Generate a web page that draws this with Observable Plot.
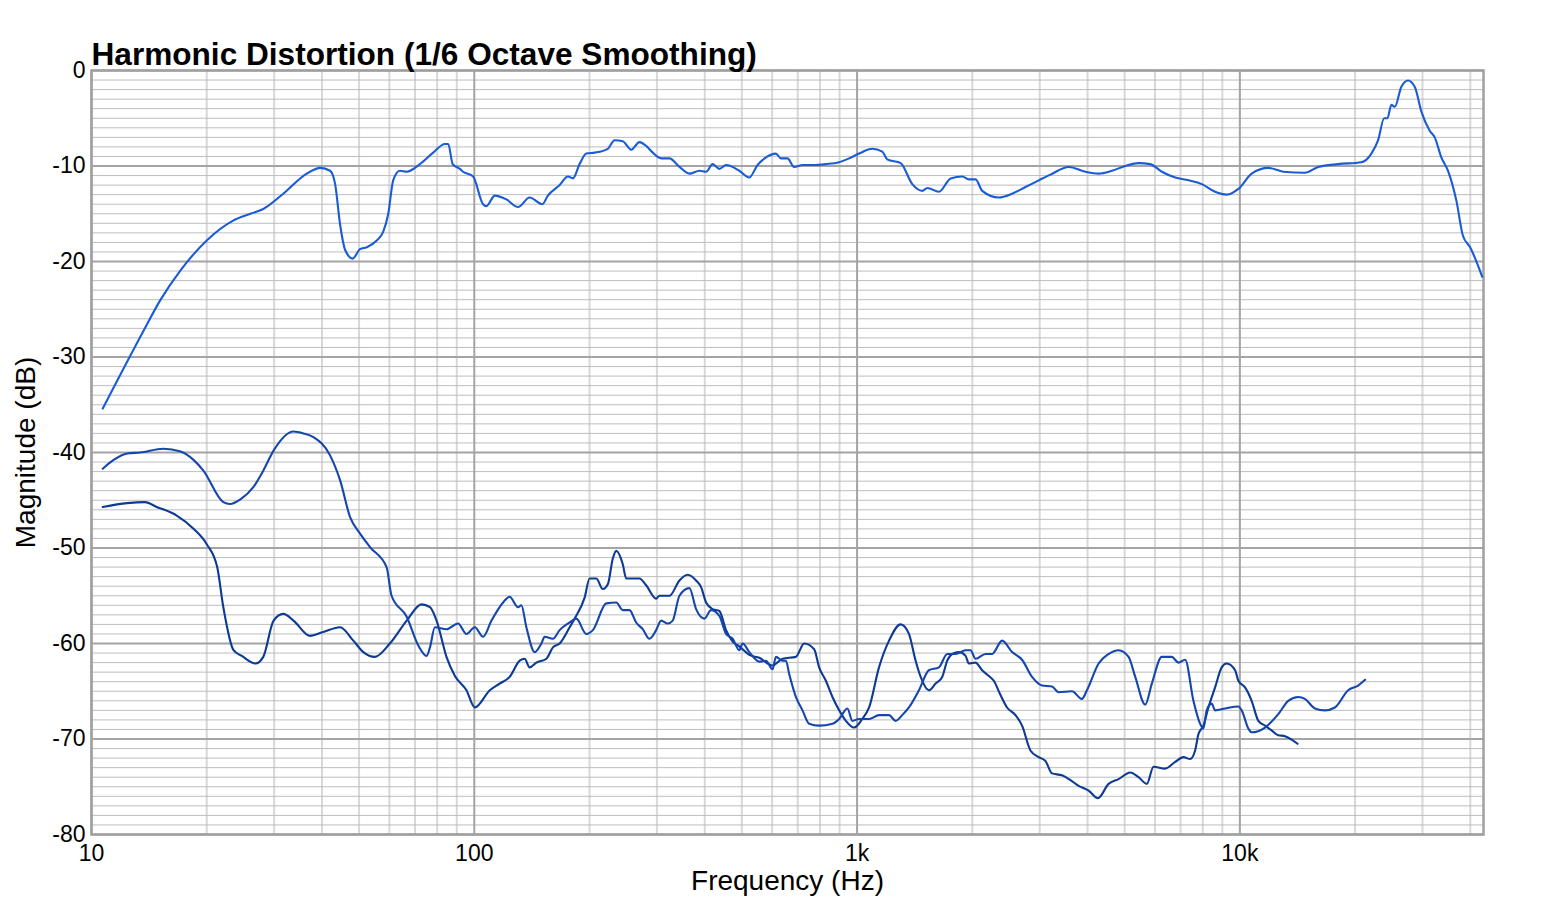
<!DOCTYPE html>
<html>
<head>
<meta charset="utf-8">
<script src="https://cdn.jsdelivr.net/npm/d3@7"></script>
<script src="https://cdn.jsdelivr.net/npm/@observablehq/plot@0.6"></script>
<style>
  html, body { margin: 0; padding: 0; background: #fff; }
  #chart svg { display: block; }
</style>
</head>
<body>
<div id="chart"></div>
<script>
const title = "Harmonic Distortion (1/6 Octave Smoothing)";
const xLabel = "Frequency (Hz)";
const yLabel = "Magnitude (dB)";
const xTicks = [10, 100, 1000, 10000];
const xTickLabels = ["10", "100", "1k", "10k"];
const yTicks = [0, -10, -20, -30, -40, -50, -60, -70, -80];
const xMinorTicks = [20, 30, 40, 50, 60, 70, 80, 90, 200, 300, 400, 500, 600, 700, 800, 900,
  2000, 3000, 4000, 5000, 6000, 7000, 8000, 9000, 20000, 30000, 40000];
const yMinorTicks = d3.range(-79, 0).filter(d => d % 10 !== 0);

// Fundamental
const fundFreq = [10.7, 13.7, 15.1, 17.1, 20.0, 23.5, 26.0, 28.1, 31.7, 36.5, 39.6, 42.0, 43.3, 44.6, 46.0, 48.1, 50.3, 52.4, 55.6, 57.8, 59.6, 61.4, 63.9, 66.6, 72.1, 78.1, 83.8, 85.5, 87.8, 91.7, 93.5, 99.3, 105.4, 107.6, 113.1, 121.3, 130.1, 139.5, 150.6, 155.7, 167.1, 175.6, 181.0, 188.4, 196.2, 206.2, 223.3, 232.5, 244.3, 257, 270.1, 281.2, 292.6, 307.7, 323.5, 343.6, 364.8, 387.3, 403.2, 419.5, 436.8, 454.7, 492.4, 522.8, 549.5, 578, 613.8, 632.4, 658.1, 685.1, 720.1, 764.5, 828.7, 897.7, 953, 1012, 1096, 1164, 1199, 1300, 1394, 1480, 1526, 1636, 1756, 1882, 1959, 2040, 2123, 2346, 2541, 2754, 2983, 3201, 3572, 3949, 4276, 4632, 5019, 5436, 5832, 6255, 6778, 7342, 7953, 8616, 9239, 9911, 10736, 11870, 12990, 14790, 16020, 18060, 20780, 22060, 22970, 23820, 24290, 24880, 25400, 26420, 27500, 28630, 29800, 31330, 32290, 33600, 34980, 36770, 38260, 39950, 42970];
const fundDb = [-35.4, -27.2, -24.1, -20.9, -17.8, -15.7, -15.0, -14.5, -12.9, -10.8, -10.2, -10.5, -11.9, -16.1, -18.8, -19.7, -18.7, -18.5, -17.8, -16.9, -15.0, -11.5, -10.5, -10.6, -9.8, -8.6, -7.7, -7.7, -9.8, -10.3, -10.6, -11.1, -14.0, -14.2, -13.1, -13.5, -14.3, -13.3, -14.0, -13.1, -12.0, -11.1, -11.3, -9.8, -8.7, -8.6, -8.2, -7.3, -7.4, -8.3, -7.5, -7.9, -8.6, -9.2, -9.2, -10.1, -10.8, -10.5, -10.6, -9.8, -10.3, -9.9, -10.5, -11.2, -9.9, -9.1, -8.7, -9.2, -9.2, -10.1, -9.9, -9.9, -9.8, -9.6, -9.2, -8.7, -8.2, -8.5, -9.3, -9.7, -11.9, -12.6, -12.3, -12.7, -11.3, -11.1, -11.4, -11.4, -12.6, -13.3, -12.9, -12.2, -11.5, -10.9, -10.1, -10.6, -10.8, -10.5, -10.0, -9.7, -9.8, -10.6, -11.2, -11.5, -11.9, -12.7, -13.0, -12.4, -10.8, -10.2, -10.6, -10.7, -10.1, -9.8, -9.6, -8.7, -7.3, -5.0, -5.0, -3.6, -3.8, -1.7, -1.05, -1.7, -4.3, -6.3, -7.0, -9.1, -10.5, -13.6, -17.3, -18.5, -21.6];

// 2nd harmonic
const h2Freq = [10.7, 11.4, 12.4, 13.4, 15.4, 17.1, 18.5, 19.6, 22.1, 23.0, 24.5, 26.5, 28.1, 29.9, 33.7, 35.8, 38.0, 42.0, 44.6, 47.4, 50.3, 53.4, 59.0, 60.8, 66.6, 71.4, 75.1, 76.6, 78.9, 84.6, 90.7, 95.4, 100.3, 105.4, 110.9, 118.9, 123.7, 130.1, 132.7, 136.8, 143.8, 149.7, 152.7, 160.5, 167.1, 177.5, 184.7, 196.2, 204.1, 221.2, 234.9, 244.3, 254.4, 264.8, 275.5, 286.8, 298.6, 307.7, 320.2, 329.9, 343.5, 364.7, 379.7, 399.1, 415.5, 436.7, 454.7, 473.1, 492.5, 502.3, 523.0, 555.3, 578.1, 601.5, 613.8, 638.6, 651.8, 664.8, 692.1, 720.1, 749.7, 796.0, 862.4, 897.8, 943.6, 972.2, 1012, 1075, 1141, 1212, 1261, 1312, 1366, 1451, 1540, 1636, 1720, 1809, 1921, 1979, 2039, 2166, 2253, 2393, 2541, 2698, 2865, 3042, 3230, 3363, 3642, 3867, 3985, 4276, 4540, 4822, 5120, 5330, 5660, 5889, 6253, 6639, 6911, 7195, 7563, 7873, 8031, 8191, 8441, 8615, 9149, 9910, 10109, 10523, 10734, 11634, 12600, 13381, 14211, 14791, 15707, 16680, 17713, 19185, 20371, 21246];
const h2Db = [-41.7, -40.8, -40.1, -40.0, -39.6, -39.9, -40.8, -41.9, -45.2, -45.4, -44.9, -43.6, -41.9, -39.8, -37.8, -38.0, -38.4, -40.3, -42.9, -46.8, -48.5, -49.9, -52.0, -55.0, -57.2, -60.2, -61.3, -60.4, -58.3, -58.5, -57.9, -59.0, -58.3, -59.3, -57.6, -55.7, -55.1, -56.2, -56.0, -58.3, -60.9, -60.0, -59.3, -59.5, -58.6, -57.8, -57.4, -59.0, -58.6, -55.8, -55.7, -56.5, -56.5, -57.8, -58.5, -59.5, -58.6, -57.6, -57.9, -57.6, -55.0, -54.2, -56.4, -57.4, -56.5, -57.1, -59.0, -59.5, -60.7, -60.0, -60.9, -61.9, -61.8, -62.7, -61.4, -61.8, -61.8, -63.2, -65.6, -67.0, -68.4, -68.6, -68.4, -67.9, -66.8, -68.1, -67.9, -67.9, -67.5, -67.5, -68.1, -67.5, -66.7, -64.9, -62.8, -62.5, -61.1, -61.1, -60.7, -60.7, -61.6, -61.1, -61.1, -59.7, -60.9, -61.7, -63.5, -64.4, -64.5, -65.1, -65.0, -65.8, -64.9, -62.1, -61.1, -60.7, -61.4, -63.5, -66.4, -64.2, -61.4, -61.4, -62.0, -61.7, -66.0, -68.4, -68.9, -67.0, -66.3, -67.0, -66.8, -66.6, -67.0, -68.9, -69.3, -68.8, -67.4, -66.0, -65.6, -65.8, -66.8, -67.0, -66.7, -64.9, -64.4, -63.8];

// 3rd harmonic
const h3Freq = [10.7, 12.4, 13.8, 14.8, 16.7, 18.5, 20.0, 21.3, 22.1, 23.5, 24.7, 26.8, 28.1, 29.9, 31.7, 33.7, 37.2, 40.3, 44.6, 48.3, 51.3, 55.0, 60.2, 66.6, 72.8, 76.6, 79.7, 84.6, 89.0, 95.4, 100.3, 109.8, 116.5, 123.7, 131.4, 135.4, 139.5, 145.3, 154.3, 160.5, 167.1, 177.5, 182.8, 194.2, 200.1, 208.3, 216.7, 223.3, 230.1, 234.9, 244.3, 249.4, 270.1, 281.2, 298.6, 304.6, 323.5, 343.5, 361.0, 379.7, 391.3, 403.2, 419.5, 436.7, 454.7, 473.1, 492.5, 523.0, 555.3, 601.5, 638.6, 692.1, 727.5, 772.5, 796.0, 828.8, 862.4, 897.8, 934.7, 982.2, 1032, 1075, 1141, 1212, 1300, 1366, 1422, 1466, 1540, 1604, 1669, 1720, 1772, 1845, 1921, 1959, 2039, 2122, 2209, 2276, 2370, 2465, 2593, 2698, 2837, 2982, 3105, 3230, 3430, 3607, 3791, 4026, 4258, 4540, 4822, 5173, 5437, 5715, 5949, 6382, 6776, 7122, 7414, 7640, 7793, 8031, 8275, 8615, 8964, 9237, 9717, 9910, 10317, 10734, 11178, 11634, 12104, 12600, 13118, 14151];
const h3Db = [-45.7, -45.3, -45.2, -45.7, -46.6, -48.0, -49.6, -52.0, -56.2, -60.7, -61.3, -62.1, -61.4, -57.6, -56.9, -57.6, -59.2, -58.8, -58.3, -59.7, -60.9, -61.4, -60.0, -57.6, -55.9, -56.2, -57.6, -61.4, -63.4, -64.9, -66.7, -64.9, -64.2, -63.5, -61.8, -61.6, -62.5, -62.0, -61.6, -60.4, -60.0, -58.3, -57.4, -55.2, -53.2, -53.2, -54.3, -53.8, -51.1, -50.3, -51.7, -53.2, -53.2, -53.9, -55.3, -55.0, -55.0, -53.4, -52.8, -53.4, -54.1, -55.7, -56.4, -56.6, -58.6, -59.8, -60.3, -61.2, -61.5, -62.3, -61.6, -61.4, -60.0, -60.6, -62.5, -63.9, -65.6, -67.0, -68.1, -68.8, -67.9, -66.7, -62.5, -59.7, -58.0, -59.0, -61.8, -63.5, -64.9, -64.2, -63.5, -61.8, -61.1, -60.9, -61.3, -62.1, -62.0, -62.8, -63.4, -63.9, -65.4, -66.7, -67.5, -68.6, -71.2, -71.9, -72.3, -73.6, -73.8, -74.3, -74.9, -75.4, -76.2, -74.7, -74.2, -73.5, -74.0, -74.7, -72.9, -73.1, -72.4, -71.9, -72.1, -71.2, -69.5, -68.6, -66.7, -64.6, -62.5, -62.1, -62.8, -63.9, -64.6, -66.0, -68.1, -68.6, -69.1, -69.6, -69.7, -70.5];

const seriesColors = { fund: "#1a5bd6", h2: "#1546ad", h3: "#0c3a94" };

function rows(freq, db) {
  const n = Math.min(freq.length, db.length);
  return d3.range(n).map(i => ({ f: freq[i], db: db[i] }));
}

const font = "'Liberation Sans', Arial, Helvetica, sans-serif";

const chart = Plot.plot({
  width: 1548,
  height: 912,
  marginTop: 70,
  marginLeft: 91,
  marginRight: 65,
  marginBottom: 78,
  style: { fontFamily: font, fontSize: "23px", color: "#000", background: "#fff" },
  x: { type: "log", domain: [10, 43300] },
  y: { domain: [-80, 0] },
  marks: [
    Plot.ruleX(xMinorTicks, { stroke: "#d8d8d8", strokeWidth: 2 }),
    Plot.ruleY(yMinorTicks, { stroke: "#bdbdbd", strokeWidth: 1 }),
    Plot.ruleX(xTicks, { stroke: "#a4a4a4", strokeWidth: 2 }),
    Plot.ruleY(yTicks, { stroke: "#a4a4a4", strokeWidth: 2 }),
    Plot.frame({ stroke: "#a0a0a0", strokeWidth: 2.5 }),
    Plot.line(rows(h3Freq, h3Db), { x: "f", y: "db", stroke: seriesColors.h3, strokeWidth: 2.1, curve: "monotone-x" }),
    Plot.line(rows(h2Freq, h2Db), { x: "f", y: "db", stroke: seriesColors.h2, strokeWidth: 2.1, curve: "monotone-x" }),
    Plot.line(rows(fundFreq, fundDb), { x: "f", y: "db", stroke: seriesColors.fund, strokeWidth: 2.1, curve: "monotone-x" }),
    Plot.axisX({ ticks: xTicks, tickFormat: d => xTickLabels[xTicks.indexOf(d)], tickSize: 0, tickPadding: 10, label: null, fontSize: 23 }),
    Plot.axisY({ ticks: yTicks, tickFormat: d => String(d), tickSize: 0, tickPadding: 6, label: null, fontSize: 23 }),
    Plot.text([xLabel], { frameAnchor: "bottom", dy: 47, lineAnchor: "middle", textAnchor: "middle", fontSize: 28, fill: "#000" }),
    Plot.text([yLabel], { frameAnchor: "left", dx: -65, rotate: -90, lineAnchor: "middle", textAnchor: "middle", fontSize: 28, fill: "#000" }),
    Plot.text([title], { frameAnchor: "top-left", dy: -6, lineAnchor: "bottom", textAnchor: "start", fontSize: 31.6, fontWeight: "bold", fill: "#000" })
  ]
});

document.getElementById("chart").appendChild(chart);
</script>
</body>
</html>
